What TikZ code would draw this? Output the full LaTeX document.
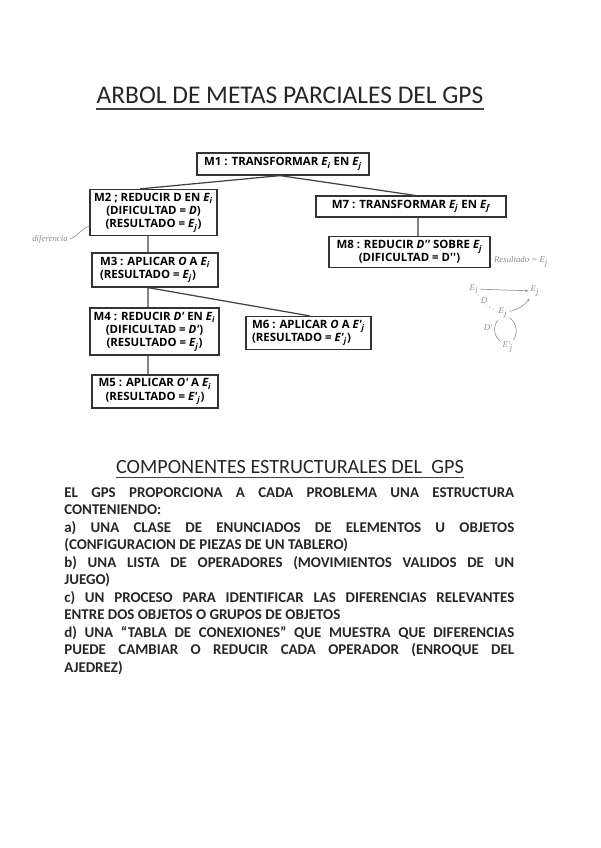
\documentclass[tikz,border=0pt]{standalone}
\usepackage{fontspec}
\setmainfont{Carlito}
\newfontfamily\boxfont{Open Sans}
\newfontfamily\handfont{Liberation Serif}
\usetikzlibrary{arrows.meta, positioning, calc}

\newcommand{\Esub}[1]{{\itshape E\textsubscript{#1}}}

\begin{document}
\begin{tikzpicture}[
  x=0.02cm, y=-0.02cm,
  goal/.style={rectangle, draw=black!80, line width=0.7pt, inner sep=2pt,
               font=\boxfont\bfseries\fontsize{6.5}{7.5}\selectfont, align=center},
  link/.style={black!75, line width=0.7pt},
  heading/.style={inner sep=0pt, text=black!85, font=\fontsize{#1}{#1}\selectfont},
  uline/.style={black!75, line width=0.9pt},
  note/.style={font=\handfont\itshape\fontsize{5}{6}\selectfont, text=black!45, inner sep=1pt},
  sketch/.style={black!40, line width=0.4pt}
]
\useasboundingbox (0,0) rectangle (600,848);

% Title
\node[heading=14.5] (tit) at (290,95) {ARBOL DE METAS PARCIALES DEL GPS};
\draw[uline] ([yshift=-3pt]tit.south west) -- ([yshift=-3pt]tit.south east);

% Goal tree
\node[goal, minimum width=3.44cm, minimum height=0.44cm] (m1) at (283,164)
  {M1 : TRANSFORMAR \Esub{i} EN \Esub{j}};
\node[goal, minimum width=2.54cm, minimum height=0.9cm] (m2) at (153.5,212.5)
  {M2 ; REDUCIR D EN \Esub{i}\\(DIFICULTAD = {\itshape D})\\(RESULTADO = \Esub{j})};
\node[goal, minimum width=3.8cm, minimum height=0.42cm] (m7) at (411,206.5)
  {M7 : TRANSFORMAR \Esub{j} EN \Esub{f}};
\node[goal, minimum width=3.22cm, minimum height=0.56cm] (m8) at (409.5,252)
  {M8 : REDUCIR {\itshape D''} SOBRE \Esub{j}\\(DIFICULTAD = D'')};
\node[goal, align=left, minimum width=2.52cm, minimum height=0.68cm] (m3) at (155,270)
  {M3 : APLICAR {\itshape O} A \Esub{i}\\(RESULTADO = \Esub{j})};
\node[goal, minimum width=2.58cm, minimum height=0.94cm] (m4) at (154.5,331.5)
  {M4 : REDUCIR {\itshape D'} EN \Esub{i}\\(DIFICULTAD = {\itshape D'})\\(RESULTADO = \Esub{j})};
\node[goal, align=left, minimum width=2.5cm, minimum height=0.6cm] (m6) at (308.5,333)
  {M6 : APLICAR {\itshape O} A {\itshape E'}\textsubscript{\itshape j}\\(RESULTADO = {\itshape E'}\textsubscript{\itshape j})};
\node[goal, minimum width=2.52cm, minimum height=0.66cm] (m5) at (155,391.5)
  {M5 : APLICAR {\itshape O'} A \Esub{i}\\(RESULTADO = {\itshape E'}\textsubscript{\itshape j})};

% Tree links
\foreach \s/\ds/\t/\dt in {m1/-0.06/m2/-0.27, m1/-0.06/m7/0.08, m2/-0.11/m3/-0.14,
    m3/-0.14/m4/-0.13, m3/-0.14/m6/0.03, m4/-0.13/m5/-0.14, m7/0.14/m8/0.17}
  \draw[link] ([xshift=\ds cm]\s.south) -- ([xshift=\dt cm]\t.north);

% Hand notes
\node[note] (dif) at (50,239) {diferencia};
\draw[sketch] (dif.east) to[out=20, in=200] ([yshift=-0.27cm]m2.west);
\node[note, anchor=west] (res) at (492,262) {Resultado = E\textsubscript{j}};
\node[note] (ei)  at (474,289) {E\textsubscript{i}};
\node[note] (ej)  at (535,291) {E\textsubscript{j}};
\node[note] (ejm) at (503,313) {E\textsubscript{j}};
\node[note] (ejp) at (508,347) {E'\textsubscript{j}};
\node[note] (d1)  at (484,301) {D};
\node[note] (d2)  at (488,328) {D'};
\draw[sketch, -{Stealth[length=2pt]}] (ei) -- (ej);
\draw[sketch, dotted] (ei) to[bend right=20] (ejm);
\draw[sketch, -{Stealth[length=2pt]}] (ejm) to[bend right=20] (ej);
\draw[sketch] (ejm) to[bend right=45] (ejp);
\draw[sketch] (ejp) to[bend right=45] (ejm);

% Components
\node[heading=11.5] (comp) at (290,467) {COMPONENTES ESTRUCTURALES DEL\ \ GPS};
\draw[uline] ([yshift=-2pt]comp.south west) -- ([yshift=-2pt]comp.south east);
\node[anchor=north west, inner sep=0pt, text width=9cm, align=justify, text=black!85,
      font=\fontsize{8.5}{9.96}\bfseries\selectfont] (body) at (64,487)
  {EL GPS PROPORCIONA A CADA PROBLEMA UNA ESTRUCTURA\linebreak
   CONTENIENDO:\\
   a) UNA CLASE DE ENUNCIADOS DE ELEMENTOS U OBJETOS\linebreak
   (CONFIGURACION DE PIEZAS DE UN TABLERO)\\
   b) UNA LISTA DE OPERADORES (MOVIMIENTOS VALIDOS DE UN\linebreak
   JUEGO)\\
   c) UN PROCESO PARA IDENTIFICAR LAS DIFERENCIAS RELEVANTES\linebreak
   ENTRE DOS OBJETOS O GRUPOS DE OBJETOS\\
   d) UNA ``TABLA DE CONEXIONES'' QUE MUESTRA QUE DIFERENCIAS\linebreak
   PUEDE CAMBIAR O REDUCIR CADA OPERADOR (ENROQUE DEL\linebreak
   AJEDREZ)};

\end{tikzpicture}
\end{document}
